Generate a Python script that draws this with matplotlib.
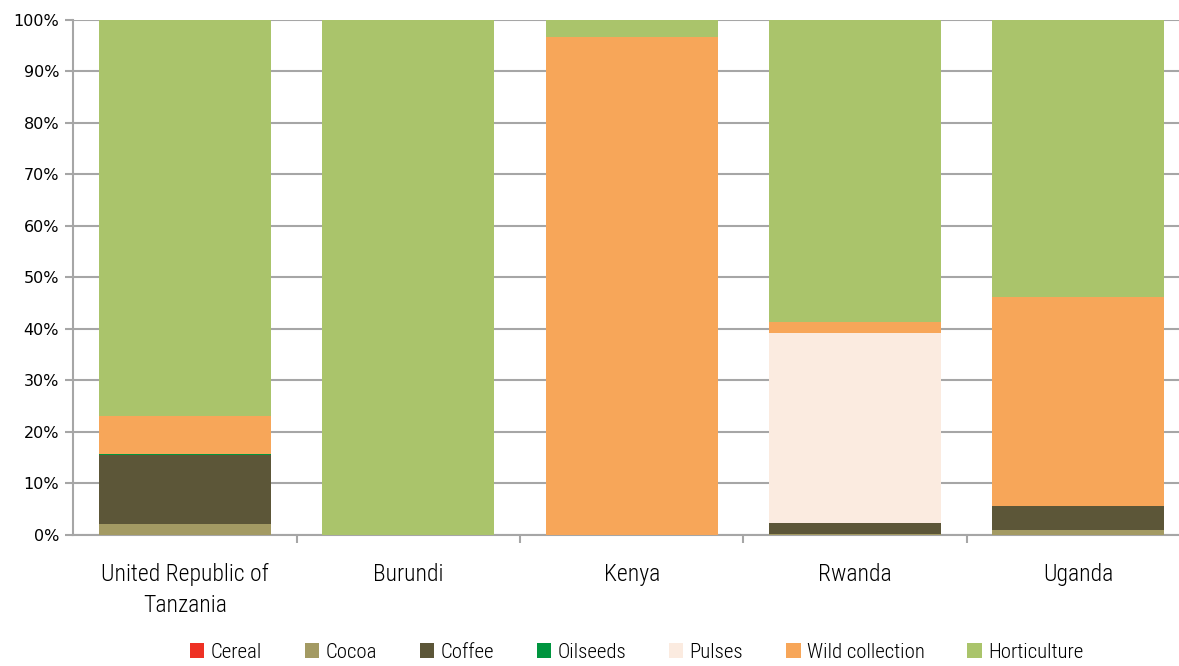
import numpy as np
import matplotlib.pyplot as plt
from matplotlib import font_manager
from matplotlib.ticker import PercentFormatter

countries = ["United Republic of\nTanzania", "Burundi", "Kenya", "Rwanda", "Uganda"]
products = ["Cereal", "Cocoa", "Coffee", "Oilseeds", "Pulses", "Wild collection", "Horticulture"]

# shares in % (bottom to top)
cereal = [0.0, 0.0, 0.0, 0.0, 0.0]
cocoa = [2.1, 0.0, 0.0, 0.2, 1.0]
coffee = [13.4, 0.0, 0.0, 2.1, 4.6]
oilseeds = [0.2, 0.0, 0.0, 0.0, 0.0]
pulses = [0.0, 0.0, 0.0, 36.9, 0.0]
wild = [7.4, 0.0, 96.6, 2.1, 40.6]
horti = [76.9, 100.0, 3.4, 58.7, 53.8]

colors = ["#EE3124", "#A39A63", "#5C5638", "#00953F", "#FBEBE0", "#F7A659", "#AAC46B"]

# pick a narrow font if there is one
installed = {f.name for f in font_manager.fontManager.ttflist}
narrow = "DejaVu Sans"
for cand in ["Liberation Sans Narrow", "DejaVu Sans Condensed", "Roboto Condensed", "Open Sans Condensed"]:
    if cand in installed:
        narrow = cand
        break

fig = plt.figure(figsize=(11.79, 6.66), dpi=100)
ax = fig.add_axes([0.062, 0.197, 0.938, 0.773])

x = np.arange(len(countries))
bottom = np.zeros(len(countries))
for name, vals, c in zip(products, [cereal, cocoa, coffee, oilseeds, pulses, wild, horti], colors):
    ax.bar(x, vals, bottom=bottom, width=0.77, color=c, label=name, zorder=3)
    bottom += np.array(vals)

ax.set_ylim(0, 100)
ax.set_xlim(-0.5, 4.45)
ax.set_yticks(np.arange(0, 101, 10))
ax.yaxis.set_major_formatter(PercentFormatter(decimals=0))
ax.grid(axis="y", color="#A6A6A6", linewidth=1.5, zorder=0)
ax.set_axisbelow(True)

for s in ["top", "right"]:
    ax.spines[s].set_visible(False)
for s in ["left", "bottom"]:
    ax.spines[s].set_color("#A6A6A6")
    ax.spines[s].set_linewidth(1.5)

ax.set_xticks(np.arange(len(countries) - 1) + 0.5)
ax.set_xticklabels([])
ax.set_xticks(x, minor=True)
ax.set_xticklabels(countries, minor=True, fontsize=17, family=narrow, fontweight="light",
                   linespacing=1.45)
ax.tick_params(axis="x", which="major", length=6, width=1.5, color="#A6A6A6")
ax.tick_params(axis="x", which="minor", length=0, pad=20)
ax.tick_params(axis="y", length=6, width=1.5, color="#A6A6A6", labelsize=11.5, pad=4)

fig.legend(loc="lower center", bbox_to_anchor=(0.540, -0.022), ncol=7, frameon=False,
           handlelength=0.7, handleheight=0.7, handletextpad=0.3, columnspacing=2.05,
           prop={"family": narrow, "size": 15, "weight": "light"})

fig.savefig("out.png", dpi=100)
